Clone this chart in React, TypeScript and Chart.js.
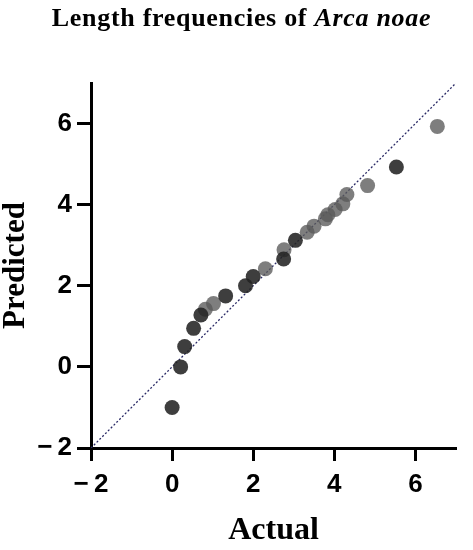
import React, { useEffect, useRef } from "react";
import { Chart, registerables } from "chart.js";

Chart.register(...registerables);

const titleMain = "Length frequencies of ";
const titleItalic = "Arca noae";
const xTitle = "Actual";
const yTitle = "Predicted";
const tickValues = [-2, 0, 2, 4, 6];

const darkActual = [0.0, 0.21, 0.31, 0.53, 0.71, 1.32, 1.81, 2.0, 2.75, 3.04, 5.53];
const darkPredicted = [-1.0, 0.0, 0.5, 0.95, 1.28, 1.75, 2.0, 2.23, 2.66, 3.12, 4.93];

const lightActual = [0.82, 1.02, 2.3, 2.76, 3.33, 3.5, 3.78, 3.84, 4.02, 4.21, 4.31, 4.82, 6.54];
const lightPredicted = [1.42, 1.56, 2.42, 2.89, 3.32, 3.47, 3.65, 3.75, 3.88, 4.02, 4.25, 4.47, 5.93];

const identityLine = [-2, 7];

function fmt(v: number): string {
  return v < 0 ? "\u2212\u2009" + Math.abs(v) : String(v);
}

export default function App() {
  const ref = useRef<HTMLCanvasElement | null>(null);

  useEffect(() => {
    if (!ref.current) return;
    const toPts = (xs: number[], ys: number[]) => xs.map((x, i) => ({ x, y: ys[i] }));
    const chart = new Chart(ref.current, {
      type: "scatter",
      data: {
        datasets: [
          {
            label: "identity",
            data: identityLine.map((v) => ({ x: v, y: v })),
            showLine: true,
            borderColor: "#2a2a66",
            borderWidth: 1.3,
            borderDash: [2, 2],
            pointRadius: 0,
            order: 3,
          },
          {
            label: "dark",
            data: toPts(darkActual, darkPredicted),
            backgroundColor: "rgba(35,35,35,0.88)",
            borderWidth: 0,
            pointRadius: 7.5,
            order: 1,
          },
          {
            label: "light",
            data: toPts(lightActual, lightPredicted),
            backgroundColor: "rgba(90,90,90,0.78)",
            borderWidth: 0,
            pointRadius: 7.5,
            order: 2,
          },
        ],
      },
      options: {
        animation: false,
        responsive: false,
        maintainAspectRatio: false,
        layout: { padding: { top: 83, right: 17, left: 0, bottom: 0 } },
        plugins: { legend: { display: false }, tooltip: { enabled: false }, title: { display: false } },
        scales: {
          x: {
            type: "linear",
            min: -2,
            max: 7,
            afterBuildTicks: (s: any) => {
              s.ticks = tickValues.map((v) => ({ value: v }));
            },
            afterFit: (s: any) => {
              s.height = 102;
            },
            grid: { drawOnChartArea: false, drawTicks: true, tickLength: 13, tickWidth: 3, tickColor: "#000" },
            border: { display: true, width: 3, color: "#000" },
            ticks: {
              color: "#000",
              padding: 8,
              font: { family: "Liberation Sans", size: 26, weight: "bold" },
              callback: (v: any) => fmt(Number(v)),
            },
            title: {
              display: true,
              text: xTitle,
              color: "#000",
              font: { family: "Liberation Serif", size: 32, weight: "bold" },
              padding: { top: 0, bottom: 0 },
            },
          },
          y: {
            type: "linear",
            min: -2,
            max: 7,
            afterBuildTicks: (s: any) => {
              s.ticks = tickValues.map((v) => ({ value: v }));
            },
            afterFit: (s: any) => {
              s.width = 91;
            },
            grid: { drawOnChartArea: false, drawTicks: true, tickLength: 14, tickWidth: 3, tickColor: "#000" },
            border: { display: true, width: 3, color: "#000" },
            ticks: {
              color: "#000",
              padding: 5,
              font: { family: "Liberation Sans", size: 26, weight: "bold" },
              callback: (v: any) => fmt(Number(v)),
            },
            title: {
              display: true,
              text: yTitle,
              color: "#000",
              font: { family: "Liberation Serif", size: 31, weight: "bold", lineHeight: 1.0 },
              padding: { top: 0, bottom: 0 },
            },
          },
        },
      },
    });
    return () => chart.destroy();
  }, []);

  return (
    <div style={{ position: "absolute", left: 0, top: 0, width: 473, height: 550, background: "#fff" }}>
      <canvas ref={ref} width={473} height={550} style={{ position: "absolute", left: 0, top: 0 }} />
      <div
        style={{
          position: "absolute",
          left: 0,
          top: 3,
          width: 483,
          textAlign: "center",
          fontFamily: "'Liberation Serif', serif",
          fontWeight: "bold",
          fontSize: 26,
          lineHeight: "30px",
          letterSpacing: 0.7,
          color: "#000",
          whiteSpace: "nowrap",
        }}
      >
        {titleMain}
        <i>{titleItalic}</i>
      </div>
    </div>
  );
}
